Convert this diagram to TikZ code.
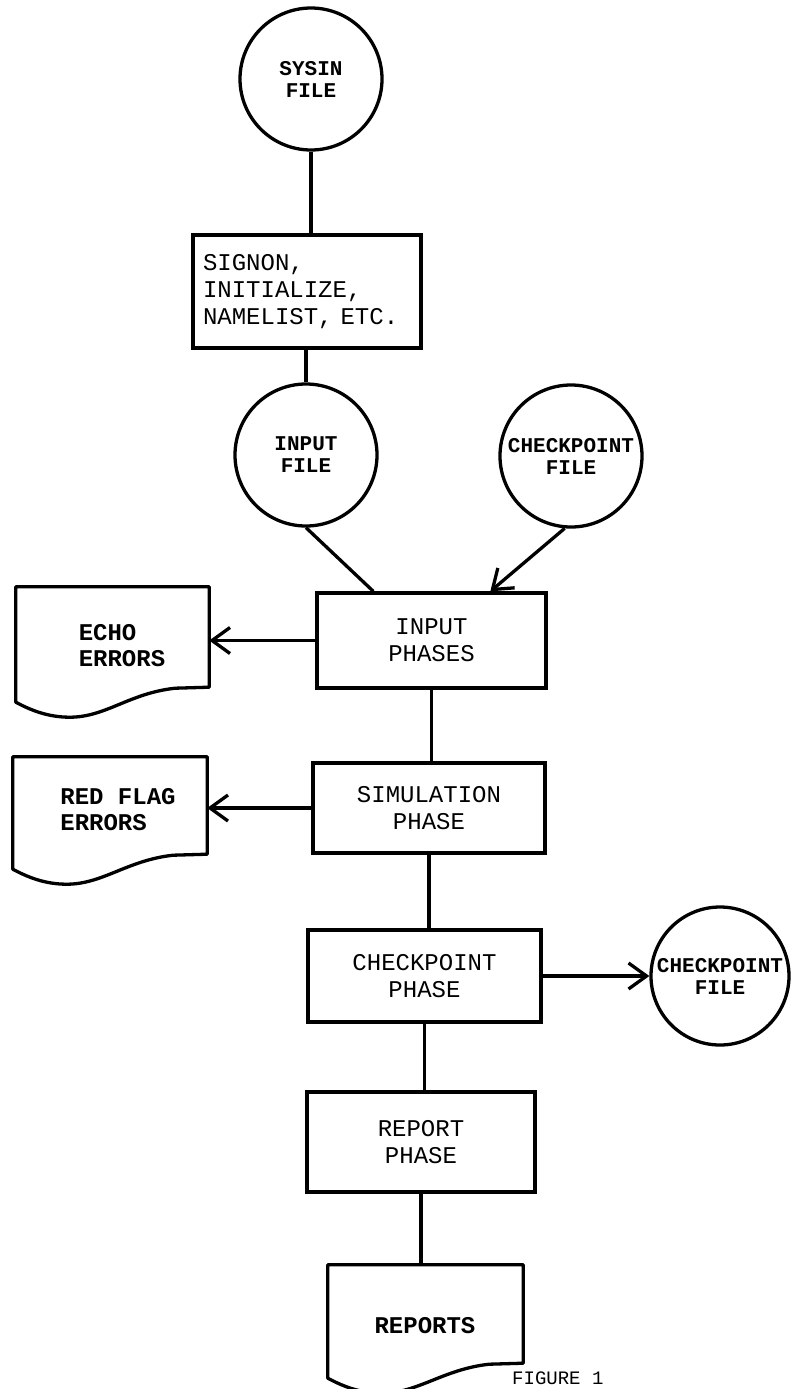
\documentclass[tikz,border=0pt]{standalone}
\usepackage{fontspec}
\setmonofont{Liberation Mono}
\usetikzlibrary{arrows.meta,calc}
\newcommand\docshape[1]{%
  \draw[line] (#1.north west) -- (#1.north east) -- (#1.south east)
    -- ($(#1.south east)+(-34,1)$)
    .. controls ($(#1.south east)+(-80,6)$) and ($(#1.south west)+(90,30)$) .. ($(#1.south west)+(54,30)$)
    .. controls ($(#1.south west)+(32,30)$) and ($(#1.south west)+(15,23)$) .. ($(#1.south west)+(0,15)$)
    -- cycle;}
\begin{document}
\begin{tikzpicture}[x=1pt,y=-1pt,
  line/.style={line width=3.3pt, line join=round},
  arr/.style={line, -{Straight Barb[length=18pt,width=26pt]}},
  filec/.style={circle, draw, line width=3.3pt, minimum size=142pt, inner sep=0pt,
    font=\ttfamily\bfseries\fontsize{21}{22}\selectfont, align=center},
  procbox/.style={rectangle, draw, line width=3.3pt, inner sep=0pt,
    font=\ttfamily\fontsize{24}{27}\selectfont, align=center},
  docnode/.style={rectangle, inner sep=0pt},
  doctext/.style={inner sep=0pt, font=\ttfamily\bfseries\fontsize{24}{26}\selectfont, align=left},
]
\useasboundingbox (0,0) rectangle (790,1389);

\node[filec] (sysin) at (311,79) {SYSIN\\FILE};
\node[procbox, minimum width=228pt, minimum height=113pt, text width=208pt, align=left] (signon) at (307,291.5) {SIGNON,\\INITIALIZE,\\NAMELIST, ETC.};
\node[filec] (input) at (306,455) {INPUT\\FILE};
\node[filec] (ckin) at (571,456) {CHECKPOINT\\FILE};
\node[procbox, minimum width=229pt, minimum height=95pt] (inph) at (431.5,640.5) {INPUT\\PHASES};
\node[docnode, minimum width=193pt, minimum height=100pt] (echo) at (112.5,637) {};
\node[doctext] (echot) at (122,646) {ECHO\\ERRORS};
\node[procbox, minimum width=232pt, minimum height=90pt] (sim) at (429,808) {SIMULATION\\PHASE};
\node[docnode, minimum width=194pt, minimum height=97pt] (red) at (110,805.5) {};
\node[doctext] (redt) at (118,810) {RED FLAG\\ERRORS};
\node[procbox, minimum width=233pt, minimum height=92pt] (ckph) at (424.5,976) {CHECKPOINT\\PHASE};
\node[filec, minimum size=138pt] (ckout) at (720,976) {CHECKPOINT\\FILE};
\node[procbox, minimum width=228pt, minimum height=100pt] (rep) at (421,1142) {REPORT\\PHASE};
\node[docnode, minimum width=195pt, minimum height=98pt] (reports) at (425.5,1314) {};
\node[doctext] (reportst) at (425,1326) {REPORTS};
\node[anchor=south west, inner sep=0pt, font=\ttfamily\fontsize{19}{20}\selectfont] (fig) at (512,1385) {FIGURE 1};

\docshape{echo}
\docshape{red}
\docshape{reports}

\coordinate (inA) at ($(inph.north west)+(58,0)$);
\coordinate (ckA) at ($(inph.north west)+(175,0)$);

\draw[line] (sysin.south) -- (sysin.south |- signon.north);
\draw[line] (input.north |- signon.south) -- (input.north);
\draw[line] (input.south) -- (inA);
\draw[arr] (ckin.265) -- (ckA);
\draw[arr] (inph.west) -- (inph.west -| echo.east);
\draw[line] (inph.south) -- (inph.south |- sim.north);
\draw[arr] (sim.west) -- (sim.west -| red.east);
\draw[line] (sim.south) -- (sim.south |- ckph.north);
\draw[arr] (ckph.east) -- (ckout.west);
\draw[line] (ckph.south) -- (ckph.south |- rep.north);
\draw[line] (rep.south) -- (rep.south |- reports.north);
\end{tikzpicture}
\end{document}
